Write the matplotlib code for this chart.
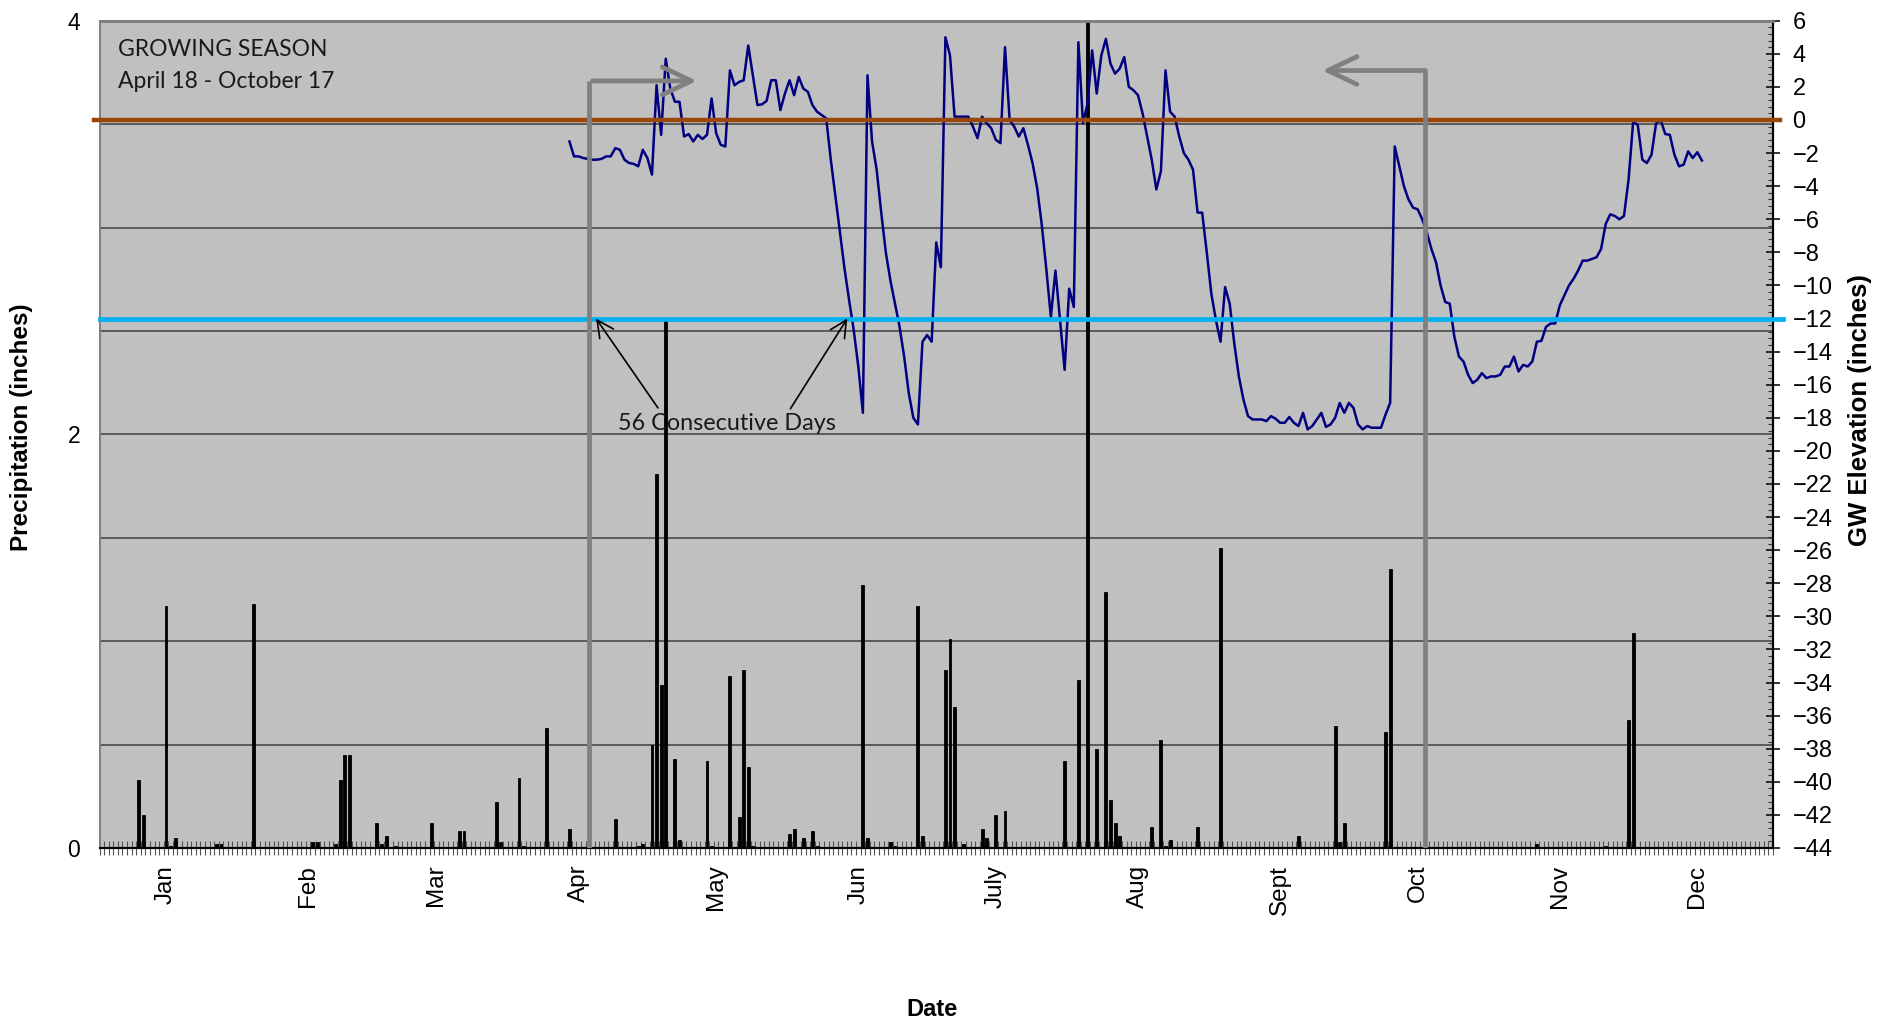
import numpy as np
import matplotlib
matplotlib.use("Agg")
import matplotlib.pyplot as plt
from matplotlib.ticker import MultipleLocator
from matplotlib.patches import FancyArrowPatch, ArrowStyle

# ---------------- data ----------------
# x positions are day-of-year indices (Jan 1 = 0)
month_labels = ["Jan", "Feb", "Mar", "Apr", "May", "Jun", "July", "Aug", "Sept", "Oct", "Nov", "Dec"]
month_label_days = [14, 45, 73, 104, 134, 165, 195, 226, 257, 287, 318, 348]  # 15th of each month

precip_days = [8, 9, 14, 15, 16, 25, 26, 33, 46, 47, 51, 52, 53, 54, 60, 61, 62, 64, 72, 78, 79,
               86, 87, 91, 92, 97, 102, 112, 117, 118, 120, 121, 122, 123, 125, 126, 132, 133,
               137, 139, 140, 141, 142, 150, 151, 153, 155, 156, 166, 167, 172, 173, 178, 179,
               184, 185, 186, 188, 192, 193, 195, 197, 210, 213, 215, 217, 219, 220, 221, 222,
               229, 231, 232, 233, 239, 244, 261, 269, 270, 271, 280, 281, 313, 328, 333, 334]
precip_inches = [0.33, 0.16, 1.17, 0.01, 0.05, 0.02, 0.02, 1.18, 0.03, 0.03, 0.02, 0.33, 0.45, 0.45,
                 0.12, 0.02, 0.06, 0.01, 0.12, 0.08, 0.08, 0.22, 0.03, 0.34, 0.01, 0.58, 0.09, 0.14,
                 0.01, 0.02, 0.50, 1.81, 0.79, 2.55, 0.43, 0.04, 0.42, 0.01, 0.83, 0.15, 0.86, 0.39,
                 0.01, 0.07, 0.09, 0.05, 0.08, 0.01, 1.27, 0.05, 0.03, 0.01, 1.17, 0.06, 0.86, 1.01,
                 0.68, 0.02, 0.09, 0.05, 0.16, 0.18, 0.42, 0.81, 4.50, 0.48, 1.24, 0.23, 0.12, 0.06,
                 0.10, 0.52, 0.01, 0.04, 0.10, 1.45, 0.06, 0.59, 0.03, 0.12, 0.56, 1.35, 0.02, 0.01,
                 0.62, 1.04]

gw_first_day = 102
gw_elevation = [
    -1.3, -2.2, -2.2, -2.3, -2.35, -2.4, -2.4, -2.35, -2.2, -2.2,
    -1.7, -1.8, -2.4, -2.6, -2.65, -2.8, -1.8, -2.3, -3.3, 2.1,
    -0.9, 3.7, 1.9, 1.1, 1.1, -1.0, -0.85, -1.3, -0.9, -1.15,
    -0.9, 1.3, -0.8, -1.5, -1.6, 3.0, 2.1, 2.3, 2.4, 4.5,
    2.7, 0.9, 0.95, 1.15, 2.4, 2.4, 0.6, 1.6, 2.4, 1.5,
    2.6, 1.9, 1.7, 0.9, 0.5, 0.3, 0.1, -2.4, -4.6, -6.8,
    -9.0, -10.9, -12.7, -14.9, -17.7, 2.7, -1.3, -3.0, -5.6, -8.0,
    -9.7, -11.1, -12.5, -14.3, -16.5, -18.0, -18.4, -13.4, -13.0, -13.4,
    -7.4, -8.9, 5.0, 3.9, 0.2, 0.2, 0.2, 0.2, -0.4, -1.1,
    0.2, -0.2, -0.5, -1.2, -1.4, 4.4, 0.0, -0.4, -1.0, -0.5,
    -1.5, -2.6, -4.1, -6.3, -9.0, -11.9, -9.1, -12.1, -15.1, -10.2,
    -11.3, 4.7, -0.2, 1.0, 4.2, 1.6, 3.9, 4.9, 3.4, 2.8,
    3.1, 3.8, 2.0, 1.8, 1.5, 0.4, -1.0, -2.4, -4.2, -3.1,
    3.0, 0.5, 0.2, -1.0, -2.0, -2.4, -3.0, -5.6, -5.6, -8.0,
    -10.5, -12.1, -13.4, -10.1, -11.1, -13.5, -15.5, -16.9, -17.9, -18.1,
    -18.1, -18.1, -18.2, -17.9, -18.05, -18.3, -18.3, -17.95, -18.3, -18.5,
    -17.7, -18.7, -18.5, -18.1, -17.7, -18.55, -18.4, -18.0, -17.1, -17.7,
    -17.1, -17.4, -18.4, -18.7, -18.5, -18.6, -18.6, -18.6, -17.8, -17.1,
    -1.6, -2.8, -4.0, -4.8, -5.3, -5.4, -6.0, -6.8, -7.8, -8.6,
    -10.0, -11.0, -11.1, -13.1, -14.3, -14.6, -15.4, -15.9, -15.7, -15.3,
    -15.6, -15.5, -15.5, -15.4, -14.9, -14.9, -14.3, -15.2, -14.8, -14.9,
    -14.6, -13.4, -13.35, -12.5, -12.3, -12.3, -11.2, -10.6, -10.0, -9.6,
    -9.1, -8.5, -8.5, -8.4, -8.3, -7.8, -6.3, -5.7, -5.8, -6.0,
    -5.8, -3.6, -0.1, -0.3, -2.4, -2.6, -2.1, -0.2, 0.0, -0.85,
    -0.9, -2.1, -2.8, -2.7, -1.9, -2.3, -1.95, -2.45,
]

ground_surface_level = 0      # brown reference line (GW axis)
root_zone_level = -12         # cyan reference line (GW axis)
season_start_day = 106.2      # April 18 bracket
season_end_day = 288.7        # October 17 bracket
consecutive_start_day = 107.8
consecutive_end_day = 162.6

# ---------------- figure ----------------
W, H = 1879, 1025
fig = plt.figure(figsize=(W / 100, H / 100), dpi=100)
plt.rcParams["font.family"] = ["Liberation Sans", "DejaVu Sans"]

L, R, T, B = 99.5, 1773, 20.7, 848
ax = fig.add_axes([L / W, 1 - B / H, (R - L) / W, (B - T) / H])
ax2 = ax.twinx()

ax.set_facecolor("#C0C0C0")
ax.set_xlim(-0.5, 364.5)
ax.set_ylim(0, 4)
ax2.set_ylim(-44, 6)

# precipitation bars
ax.bar(precip_days, precip_inches, width=0.64, color="black", edgecolor="black",
       linewidth=0.6, zorder=3)

# grid
ax.set_yticks([0, 2, 4])
ax.yaxis.set_minor_locator(MultipleLocator(0.5))
ax.set_axisbelow(True)
ax.grid(which="both", axis="y", color="#4a4a4a", linewidth=1.2)
ax.tick_params(axis="y", which="both", length=0, pad=14, labelsize=16.5)

# x ticks
ax.set_xticks(month_label_days)
ax.set_xticklabels(month_labels, rotation=90, fontsize=17.5)
ax.set_xticks(np.arange(-0.5, 365, 1), minor=True)
ax.tick_params(axis="x", which="major", length=0, pad=12)
ax.tick_params(axis="x", which="minor", direction="inout", length=10.5, width=0.8,
               color="#555555")

# right axis
ax2.yaxis.set_major_locator(MultipleLocator(2))
ax2.yaxis.set_minor_locator(MultipleLocator(0.4))
ax2.tick_params(axis="y", which="major", direction="inout", length=10, width=1.1,
                pad=9, labelsize=17)
ax2.tick_params(axis="y", which="minor", direction="in", length=3.6, width=0.8,
                color="#333333")

for a in (ax, ax2):
    a.spines["top"].set_color("#808080")
    a.spines["top"].set_linewidth(2)
    a.spines["left"].set_color("#808080")
    a.spines["left"].set_linewidth(1.2)
    a.spines["bottom"].set_color("black")
    a.spines["bottom"].set_linewidth(1.5)
    a.spines["right"].set_color("black")
    a.spines["right"].set_linewidth(1.5)

# groundwater line
gw_days = gw_first_day + np.arange(len(gw_elevation))
ax2.plot(gw_days, gw_elevation, color="#000080", linewidth=1.8, zorder=3)

# reference lines
ax2.axhline(ground_surface_level, xmin=-0.003, xmax=1.004, color="#994709",
            linewidth=3.2, clip_on=False, zorder=5)
ax2.axhline(root_zone_level, xmin=0.0, xmax=1.006, color="#00B0F0",
            linewidth=3.4, clip_on=False, zorder=5)

# growing season brackets
gray = "#808080"
start_top, end_top = 2.36, 2.99
ax2.plot([season_start_day, season_start_day], [-44, start_top], color=gray,
         linewidth=3.4, solid_capstyle="butt", zorder=6)
ax2.plot([season_end_day, season_end_day], [-44, end_top], color=gray,
         linewidth=3.4, solid_capstyle="butt", zorder=6)
head = ArrowStyle("->", head_length=1.05, head_width=0.5)
ax2.add_patch(FancyArrowPatch((season_start_day + 0.8, start_top), (129.8, start_top),
                              arrowstyle=head, mutation_scale=20, color=gray,
                              linewidth=3.4, shrinkA=0, shrinkB=0, capstyle="round",
                              joinstyle="round", zorder=6))
ax2.add_patch(FancyArrowPatch((season_end_day, end_top), (266.2, end_top),
                              arrowstyle=head, mutation_scale=20, color=gray,
                              linewidth=3.4, shrinkA=0, shrinkB=0, capstyle="round",
                              joinstyle="round", zorder=6))

# "56 consecutive days" arrows
thin = ArrowStyle("->", head_length=0.8, head_width=0.4)
ax2.add_patch(FancyArrowPatch((121.3, -17.4), (consecutive_start_day, root_zone_level),
                              arrowstyle=thin, mutation_scale=15, color="black",
                              linewidth=1.2, shrinkA=0, shrinkB=0, zorder=7))
ax2.add_patch(FancyArrowPatch((150.2, -17.45), (consecutive_end_day, root_zone_level),
                              arrowstyle=thin, mutation_scale=15, color="black",
                              linewidth=1.2, shrinkA=0, shrinkB=0, zorder=7))

# texts
def ftext(x, y, s, **kw):
    fig.text(x / W, 1 - y / H, s, **kw)

ftext(118, 49, "GROWING SEASON", fontsize=16.5, family=["Lato", "DejaVu Sans"],
      ha="left", va="center", color="#1a1a1a")
ftext(118, 82, "April 18 - October 17", fontsize=16.5, family=["Lato", "DejaVu Sans"],
      ha="left", va="center", color="#1a1a1a")
ftext(726.7, 424, "56 Consecutive Days", fontsize=16.8, family=["Lato", "DejaVu Sans"],
      ha="center", va="center", color="#1a1a1a", zorder=8)

ftext(22, 427, "Precipitation (inches)", fontsize=17.5, fontweight="bold",
      rotation=90, ha="center", va="center")
ftext(1860, 410, "GW Elevation (inches)", fontsize=18.5, fontweight="bold",
      rotation=90, ha="center", va="center")
ftext(932, 1010, "Date", fontsize=17, fontweight="bold", ha="center", va="center")

fig.savefig("out.png", dpi=100, facecolor="white")
